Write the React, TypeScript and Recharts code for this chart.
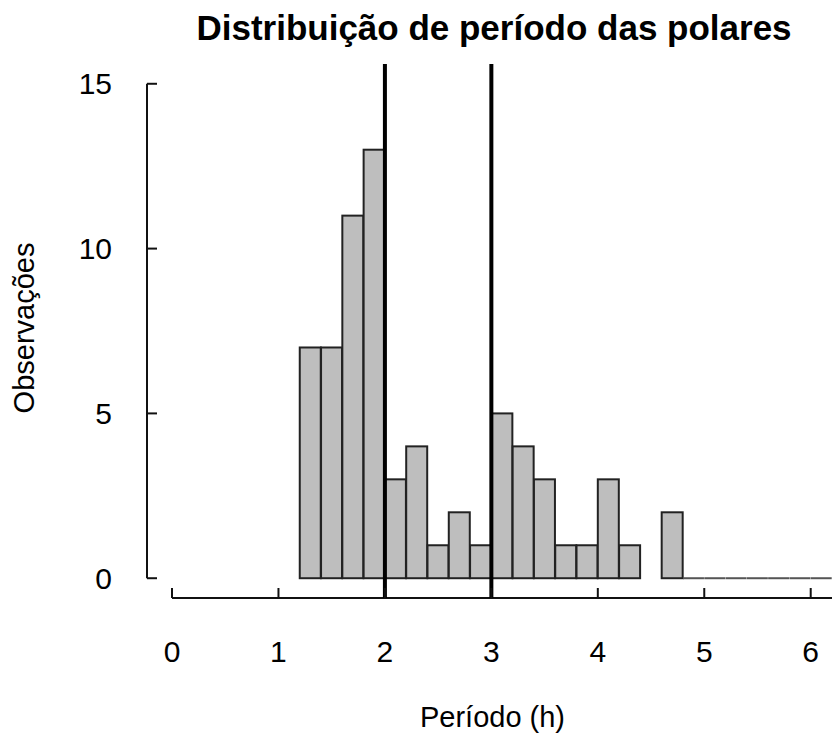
import React from "react";
import {
  BarChart,
  Bar,
  XAxis,
  YAxis,
  ReferenceLine
} from "recharts";

// histogram bins (mid-points, width 0.2 h) and their counts
const binMids = [
  1.3, 1.5, 1.7, 1.9, 2.1, 2.3, 2.5, 2.7, 2.9, 3.1, 3.3, 3.5, 3.7,
  3.9, 4.1, 4.3, 4.5, 4.7, 4.9, 5.1, 5.3, 5.5, 5.7, 5.9, 6.1
];
const counts: (number | null)[] = [
  7, 7, 11, 13, 3, 4, 1, 2, 1, 5, 4, 3, 1,
  1, 3, 1, null, 2, 0, 0, 0, 0, 0, 0, 0
];
const markers = [2, 3];
const xTicks = [0, 1, 2, 3, 4, 5, 6];
const yTicks = [0, 5, 10, 15];

const xMin = -0.235;
const xMax = 6.2;
const yMin = -0.6;
const yMax = 15.6;

const data = binMids.map((mid, i) => ({ mid, count: counts[i] }));

const font = '"Liberation Sans", Arial, sans-serif';

function HistBar(props: any) {
  const { x, y, width, height, payload } = props;
  if (payload.count == null) return <g />;
  if (payload.count === 0) {
    return (
      <line x1={x} x2={x + width} y1={y} y2={y} stroke="#555" strokeWidth={2} />
    );
  }
  return (
    <rect
      x={x}
      y={y}
      width={width}
      height={height}
      fill="#bebebe"
      stroke="#222"
      strokeWidth={2}
    />
  );
}

export default function App() {
  return (
    <div
      style={{
        position: "absolute",
        left: 0,
        top: 0,
        width: 832,
        height: 736,
        fontFamily: font,
        background: "#fff"
      }}
    >
      <div
        style={{
          position: "absolute",
          left: 494,
          top: 8,
          transform: "translateX(-50%)",
          whiteSpace: "nowrap",
          fontSize: 35,
          lineHeight: "40px",
          fontWeight: "bold",
          color: "#000"
        }}
      >
        Distribuição de período das polares
      </div>
      <BarChart
        width={832}
        height={736}
        data={data}
        barCategoryGap={0}
        barGap={0}
        margin={{ top: 64, right: 0, bottom: 0, left: 0 }}
      >
        <XAxis
          dataKey="mid"
          type="number"
          domain={[xMin, xMax]}
          allowDataOverflow
          ticks={xTicks}
          interval={0}
          height={138}
          axisLine={false}
          tickSize={-10}
          tickMargin={53}
          tickLine={{ stroke: "#111", strokeWidth: 2 }}
          tick={{ fontSize: 30, fill: "#000", fontFamily: font }}
          label={{
            value: "Período (h)",
            position: "insideBottom",
            offset: 9,
            dx: 3,
            style: { fontSize: 29, fill: "#000", fontFamily: font }
          }}
        />
        <YAxis
          type="number"
          domain={[yMin, yMax]}
          allowDataOverflow
          ticks={yTicks}
          interval={0}
          width={147}
          axisLine={false}
          tickSize={-10}
          tickMargin={45}
          tickLine={{ stroke: "#111", strokeWidth: 2 }}
          tick={{ fontSize: 30, fill: "#000", fontFamily: font }}
          label={{
            value: "Observações",
            position: "insideLeft",
            angle: -90,
            offset: 24,
            dy: -3,
            style: {
              fontSize: 29,
              fill: "#000",
              fontFamily: font,
              textAnchor: "middle"
            }
          }}
        />
        <Bar dataKey="count" shape={HistBar} isAnimationActive={false} />
        <ReferenceLine
          segment={[
            { x: xMin, y: yTicks[0] },
            { x: xMin, y: yTicks[yTicks.length - 1] }
          ]}
          ifOverflow="visible"
          stroke="#111"
          strokeWidth={2}
        />
        <ReferenceLine
          segment={[
            { x: xTicks[0], y: yMin },
            { x: xMax, y: yMin }
          ]}
          ifOverflow="visible"
          stroke="#111"
          strokeWidth={2}
        />
        {markers.map((m) => (
          <ReferenceLine key={m} x={m} stroke="#000" strokeWidth={4} />
        ))}
      </BarChart>
    </div>
  );
}
